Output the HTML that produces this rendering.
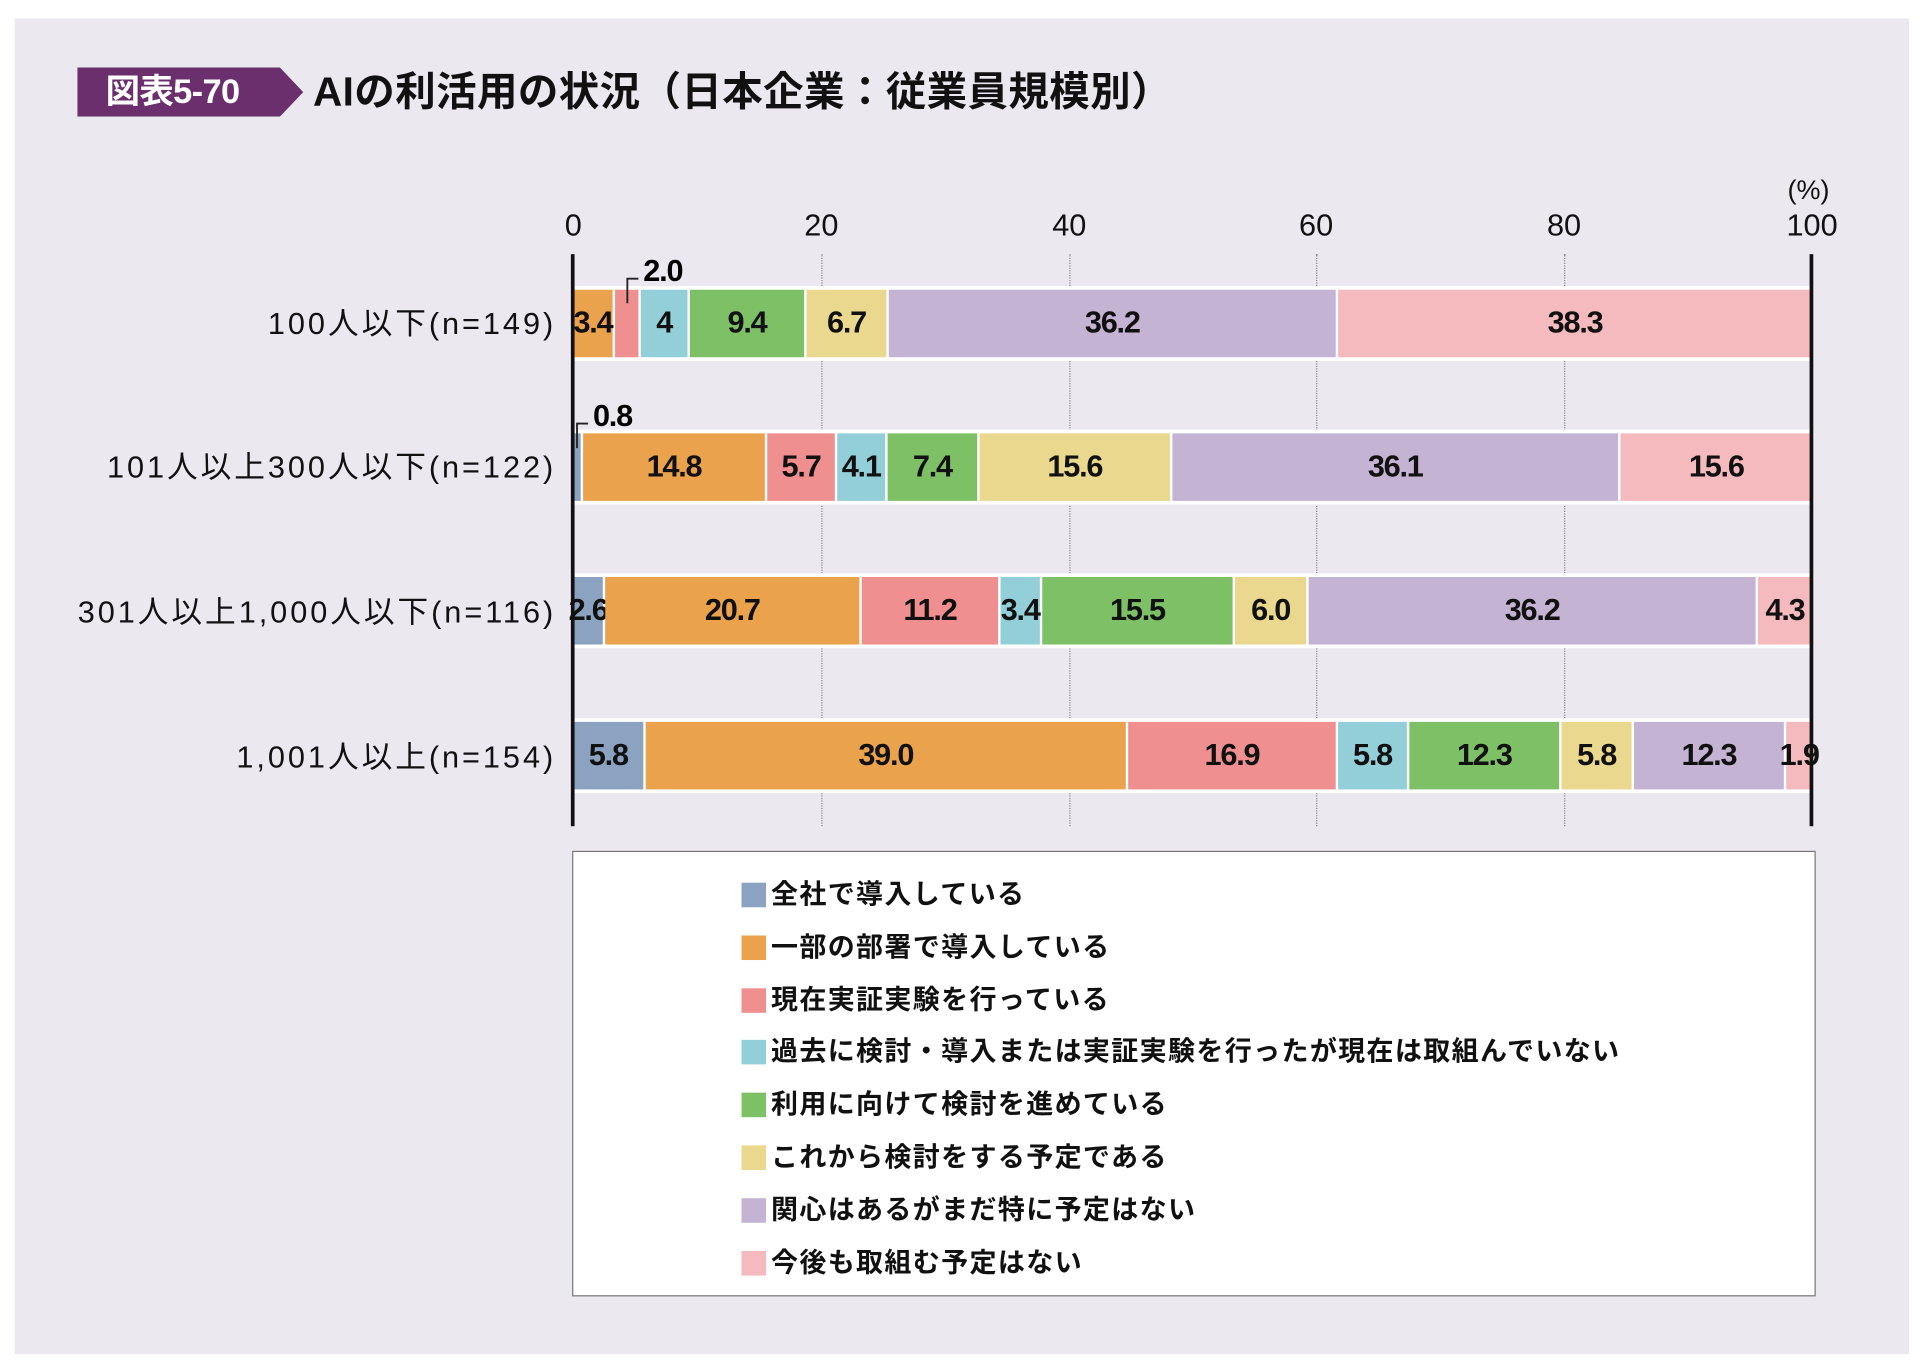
<!DOCTYPE html>
<html><head><meta charset="utf-8">
<style>
html,body{margin:0;padding:0;background:#fff;width:1925px;height:1370px;overflow:hidden}
#w{position:absolute;left:0;top:0;width:1568px;height:1116px;transform:scale(1.22768);transform-origin:0 0;font-family:"Liberation Sans","Noto Sans CJK JP",sans-serif}
.panel{position:absolute;left:12px;top:15px;width:1543px;height:1088px;background:#ece8f0}
.ab{position:absolute}
.seg{position:absolute;height:55px;box-sizing:border-box;border-right:2px solid #fff;display:flex;align-items:center;justify-content:center;font-family:"Liberation Sans Narrow","Liberation Sans",sans-serif;font-weight:bold;font-size:25px;color:#111;white-space:nowrap;letter-spacing:-1px}
.rowbg{position:absolute;left:467px;width:1009px;height:61px;background:#fff}
.lab{position:absolute;right:1115px;font-size:25px;color:#111;white-space:nowrap;line-height:30px;letter-spacing:2.4px}
.tick{position:absolute;top:170px;font-size:25px;font-family:"Liberation Sans Narrow","Liberation Sans",sans-serif;width:60px;margin-left:-30px;text-align:center;color:#111}
.grid{position:absolute;top:207px;height:466px;border-left:1px dotted #888}
.lg{position:absolute;left:604px;font-size:22px;font-weight:bold;letter-spacing:1.1px;color:#111;line-height:26px;white-space:nowrap}
.lg i{display:inline-block;width:20px;height:20px;vertical-align:-3px;margin-right:4px}
.c1{background:#8ba3c1}.c2{background:#eba24c}.c3{background:#ef8f8f}.c4{background:#93cfd8}.c5{background:#7dc066}.c6{background:#ead88f}.c7{background:#c4b3d3}.c8{background:#f4babd}
</style></head><body><div id="w">
<div class="panel"></div>
<svg class="ab" style="left:63px;top:55px" width="190" height="40"><polygon points="0,0 165,0 184,20 165,40 0,40" fill="#6b2f6e"/></svg>
<div class="ab" style="left:86px;top:56px;font-size:28px;font-weight:bold;color:#fff;line-height:38px;letter-spacing:-0.5px">図表5-70</div>
<div class="ab" style="left:255px;top:54px;font-size:33px;font-weight:bold;color:#111;line-height:42px;white-space:nowrap;letter-spacing:0.3px">AIの利活用の状況（日本企業：従業員規模別）</div>

<div class="ab" style="left:1456px;top:142px;font-size:22px;color:#111">(%)</div>
<div class="tick" style="left:467px">0</div>
<div class="tick" style="left:669px">20</div>
<div class="tick" style="left:871px">40</div>
<div class="tick" style="left:1072px">60</div>
<div class="tick" style="left:1274px">80</div>
<div class="tick" style="left:1476px">100</div>
<div class="grid" style="left:669px"></div>
<div class="grid" style="left:871px"></div>
<div class="grid" style="left:1072px"></div>
<div class="grid" style="left:1274px"></div>

<div class="rowbg" style="top:233px"></div>
<div class="rowbg" style="top:350px"></div>
<div class="rowbg" style="top:467px"></div>
<div class="rowbg" style="top:585px"></div>

<!-- row1 -->
<div class="lab" style="top:249px">100人以下(n=149)</div>
<div class="seg c2" style="top:236px;left:467px;width:34px">3.4</div>
<div class="seg c3" style="top:236px;left:501px;width:21px"></div>
<div class="seg c4" style="top:236px;left:522px;width:40px">4</div>
<div class="seg c5" style="top:236px;left:562px;width:95px">9.4</div>
<div class="seg c6" style="top:236px;left:657px;width:67px">6.7</div>
<div class="seg c7" style="top:236px;left:724px;width:366px">36.2</div>
<div class="seg c8" style="top:236px;left:1090px;width:386px;border-right:0">38.3</div>
<div class="ab" style="left:524px;top:207px;font-family:'Liberation Sans Narrow','Liberation Sans',sans-serif;font-weight:bold;font-size:25px;letter-spacing:-1px">2.0</div>
<svg class="ab" style="left:505px;top:220px" width="20" height="30"><polyline points="15,7 6,7 6,27" fill="none" stroke="#222" stroke-width="1.5"/></svg>

<!-- row2 -->
<div class="lab" style="top:366px">101人以上300人以下(n=122)</div>
<div class="seg c1" style="top:353px;left:467px;width:8px"></div>
<div class="seg c2" style="top:353px;left:475px;width:150px">14.8</div>
<div class="seg c3" style="top:353px;left:625px;width:57px">5.7</div>
<div class="seg c4" style="top:353px;left:682px;width:41px">4.1</div>
<div class="seg c5" style="top:353px;left:723px;width:75px">7.4</div>
<div class="seg c6" style="top:353px;left:798px;width:157px">15.6</div>
<div class="seg c7" style="top:353px;left:955px;width:365px">36.1</div>
<div class="seg c8" style="top:353px;left:1320px;width:156px;border-right:0">15.6</div>
<div class="ab" style="left:483px;top:325px;font-family:'Liberation Sans Narrow','Liberation Sans',sans-serif;font-weight:bold;font-size:25px;letter-spacing:-1px">0.8</div>
<svg class="ab" style="left:464px;top:338px" width="20" height="30"><polyline points="15,7 6,7 6,27" fill="none" stroke="#222" stroke-width="1.5"/></svg>

<!-- row3 -->
<div class="lab" style="top:484px">301人以上1,000人以下(n=116)</div>
<div class="seg c1" style="top:470px;left:467px;width:26px">2.6</div>
<div class="seg c2" style="top:470px;left:493px;width:209px">20.7</div>
<div class="seg c3" style="top:470px;left:702px;width:113px">11.2</div>
<div class="seg c4" style="top:470px;left:815px;width:34px">3.4</div>
<div class="seg c5" style="top:470px;left:849px;width:157px">15.5</div>
<div class="seg c6" style="top:470px;left:1006px;width:60px">6.0</div>
<div class="seg c7" style="top:470px;left:1066px;width:366px">36.2</div>
<div class="seg c8" style="top:470px;left:1432px;width:44px;border-right:0">4.3</div>

<!-- row4 -->
<div class="lab" style="top:602px">1,001人以上(n=154)</div>
<div class="seg c1" style="top:588px;left:467px;width:59px">5.8</div>
<div class="seg c2" style="top:588px;left:526px;width:393px">39.0</div>
<div class="seg c3" style="top:588px;left:919px;width:171px">16.9</div>
<div class="seg c4" style="top:588px;left:1090px;width:58px">5.8</div>
<div class="seg c5" style="top:588px;left:1148px;width:124px">12.3</div>
<div class="seg c6" style="top:588px;left:1272px;width:59px">5.8</div>
<div class="seg c7" style="top:588px;left:1331px;width:124px">12.3</div>
<div class="seg c8" style="top:588px;left:1455px;width:21px;border-right:0;overflow:visible">1.9</div>

<div class="ab" style="left:465px;top:207px;width:3px;height:466px;background:#111"></div>
<div class="ab" style="left:1474px;top:207px;width:3px;height:466px;background:#111"></div>

<div class="ab" style="left:466px;top:693px;width:1011px;height:361px;background:#fff;border:1px solid #777"></div>
<div class="lg" style="top:716px"><i class="c1"></i>全社で導入している</div>
<div class="lg" style="top:759px"><i class="c2"></i>一部の部署で導入している</div>
<div class="lg" style="top:802px"><i class="c3"></i>現在実証実験を行っている</div>
<div class="lg" style="top:844px"><i class="c4"></i>過去に検討・導入または実証実験を行ったが現在は取組んでいない</div>
<div class="lg" style="top:887px"><i class="c5"></i>利用に向けて検討を進めている</div>
<div class="lg" style="top:930px"><i class="c6"></i>これから検討をする予定である</div>
<div class="lg" style="top:973px"><i class="c7"></i>関心はあるがまだ特に予定はない</div>
<div class="lg" style="top:1016px"><i class="c8"></i>今後も取組む予定はない</div>
</div></body></html>
